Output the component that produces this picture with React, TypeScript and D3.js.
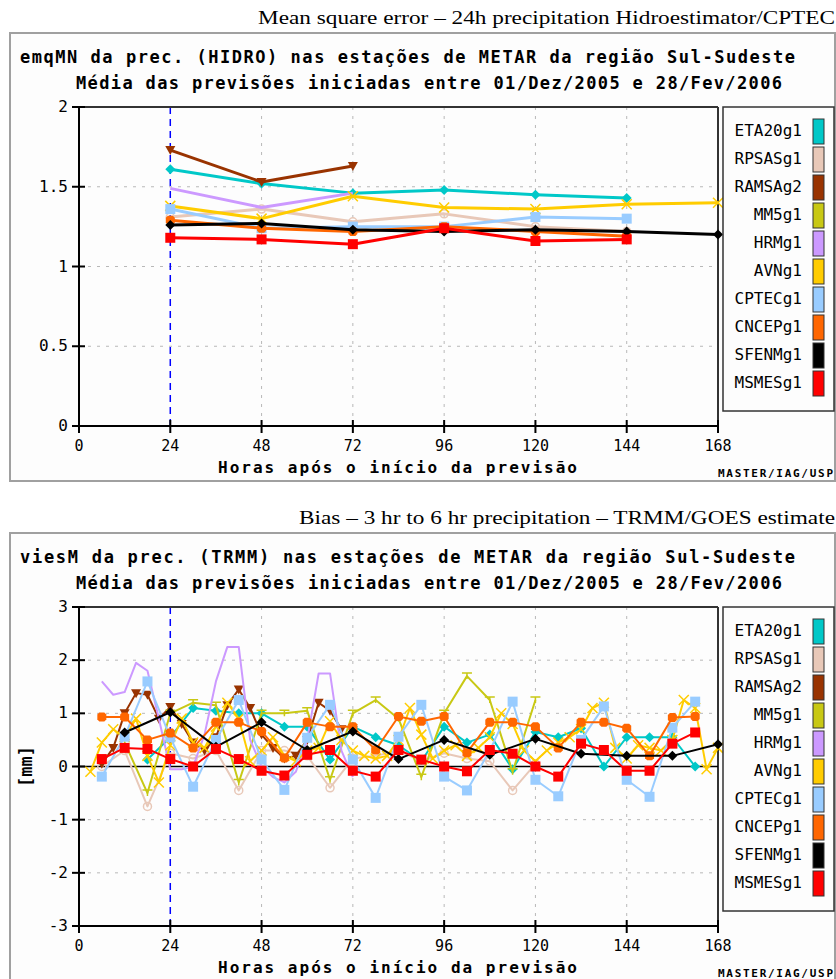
import React from 'react';
import * as d3 from 'd3';

// modelos (ordem da legenda)
const models = ['ETA20g1', 'RPSASg1', 'RAMSAg2', 'MM5g1', 'HRMg1', 'AVNg1', 'CPTECg1', 'CNCEPg1', 'SFENMg1', 'MSMESg1'];
const modelColors = ['#00c8c8', '#e8c8b8', '#993300', '#c8c814', '#cc99ff', '#ffcc00', '#99ccff', '#ff6600', '#000000', '#ff0000'];
const modelMarkers = ['diamond', 'circle', 'triangle', 'bar', 'none', 'cross', 'square', 'dot', 'diamond', 'square'];

const xTicks = [0, 24, 48, 72, 96, 120, 144, 168];

// ---- painel 1: emqMN (HIDRO), previsoes a cada 24h
const emqHours = [24, 48, 72, 96, 120, 144, 168];
const emqETA20 = [1.61, 1.52, 1.46, 1.48, 1.45, 1.43, null];
const emqRPSAS = [1.31, 1.36, 1.28, 1.33, 1.25, 1.22, null];
const emqRAMSA = [1.73, 1.53, 1.63, null, null, null, null];
const emqMM5: (number | null)[] = [null, null, null, null, null, null, null];
const emqHRM = [1.49, 1.37, 1.46, null, null, null, null];
const emqAVN = [1.38, 1.30, 1.44, 1.37, 1.36, 1.39, 1.40];
const emqCPTEC = [1.36, 1.24, 1.25, 1.25, 1.31, 1.30, null];
const emqCNCEP = [1.29, 1.24, 1.22, 1.25, 1.22, 1.19, null];
const emqSFENM = [1.26, 1.27, 1.23, 1.22, 1.23, 1.22, 1.20];
const emqMSMES = [1.18, 1.17, 1.14, 1.24, 1.16, 1.17, null];
const emqTicks = [0, 0.5, 1, 1.5, 2];

// ---- painel 2: viesM (TRMM)
const hours6 = [6, 12, 18, 24, 30, 36, 42, 48, 54, 60, 66, 72, 78, 84, 90, 96, 102, 108, 114, 120, 126, 132, 138, 144, 150, 156, 162, 168];
const hours12 = [12, 24, 36, 48, 60, 72, 84, 96, 108, 120, 132, 144, 156, 168];
const hoursRAMS = [6, 9, 12, 15, 18, 21, 24, 27, 30, 33, 36, 39, 42, 45, 48, 51, 54, 57, 60, 63, 66, 69];
const hoursHRM = [6, 9, 12, 15, 18, 21, 24, 27, 30, 33, 36, 39, 42, 45, 48, 51, 54, 57, 60, 63, 66, 69, 72];
const hoursAVN = [3, 6, 9, 12, 15, 18, 21, 24, 27, 30, 33, 36, 39, 42, 45, 48, 51, 54, 57, 60, 63, 66, 69, 72, 75, 78, 81, 84, 87, 90, 93, 96, 99, 102, 105, 108, 111, 114, 117, 120, 123, 126, 129, 132, 135, 138, 141, 144, 147, 150, 153, 156, 159, 162, 165, 168];

const viesETA20 = [null, null, 0.13, 0.55, 1.1, 1.05, 1.0, 1.0, 0.75, 0.75, 0.13, 0.75, 0.55, 0.4, 0.1, 0.75, 0.45, 0.6, -0.05, 0.65, 0.55, 0.72, 0.0, 0.55, 0.55, 0.55, 0.0, null];
const viesRPSAS = [0.0, 0.3, -0.75, 0.25, 0.15, 0.3, -0.45, 0.3, 0.3, 0.2, -0.4, 0.15, 0.2, 0.3, 0.1, 0.25, 0.15, 0.1, -0.45, 0.05, null, null, null, null, null, null, null, null];
const viesRAMSA = [0.05, 0.35, 1.0, 1.38, 1.35, 0.9, 1.12, 0.8, 0.45, 0.3, 0.55, 1.15, 1.45, 1.1, 0.6, 0.35, 0.15, 0.2, 0.5, 1.2, 1.05, 0.7];
const viesMM5 = [null, 0.45, -0.5, 1.0, 1.2, 1.15, -0.3, 1.0, 1.0, 1.05, -0.25, 1.0, 1.25, 0.9, -0.2, 1.0, 1.7, 1.25, -0.1, 1.25, null, null, null, null, null, null, null, null];
const viesHRM = [1.6, 1.35, 1.4, 1.95, 1.8, 0.9, -0.05, -0.05, 0.0, 0.6, 1.6, 2.25, 2.25, 0.5, 0.0, -0.2, -0.3, -0.1, 0.5, 1.75, 1.75, 0.3, -0.2];
const viesAVN = [-0.1, 0.45, 0.7, 0.55, 0.9, 0.2, -0.3, 0.4, 0.9, 0.45, 0.35, 0.75, 1.2, 0.9, 0.1, 0.3, 0.55, 0.2, 0.1, 0.3, 0.35, 0.85, 0.5, 0.3, 0.2, 0.15, 0.2, 0.5, 1.1, 0.6, 0.15, 0.3, 0.4, 0.2, 0.35, 0.55, 1.0, 0.8, 0.3, 0.1, 0.3, 0.45, 0.55, 0.7, 1.1, 1.2, 0.35, 0.15, 0.4, 0.35, 0.3, 0.5, 1.25, 1.1, -0.05, 0.35];
const viesCPTEC = [-0.19, 0.56, 1.6, 0.55, -0.38, 0.5, 1.25, 0.13, -0.44, 0.54, 1.16, 0.13, -0.59, 0.56, 1.16, -0.19, -0.45, 0.3, 1.22, -0.25, -0.56, 0.5, 1.13, -0.25, -0.57, 0.73, 1.22, null];
const viesCNCEP = [0.93, 0.93, 0.5, 0.63, 0.35, 0.83, 0.83, 0.66, 0.16, 0.83, 0.75, 0.75, 0.31, 0.94, 0.85, 0.94, 0.26, 0.83, 0.83, 0.75, 0.35, 0.83, 0.83, 0.72, 0.2, 0.92, 0.94, null];
const viesSFENM = [0.64, 1.02, 0.37, 0.83, 0.31, 0.66, 0.14, 0.5, 0.22, 0.52, 0.24, 0.2, 0.2, 0.42];
const viesMSMES = [0.14, 0.35, 0.33, 0.14, 0.0, 0.33, 0.14, -0.08, -0.17, 0.22, 0.31, -0.08, -0.19, 0.31, 0.13, 0.0, -0.09, 0.31, 0.24, 0.0, -0.19, 0.43, 0.31, -0.08, -0.08, 0.43, 0.64, null];
const viesTicks = [-3, -2, -1, 0, 1, 2, 3];

type Series = { name: string; color: string; marker: string; hours: number[]; values: (number | null)[] };

const mk = (i: number, hours: number[], values: (number | null)[]): Series => ({
  name: models[i], color: modelColors[i], marker: modelMarkers[i], hours, values,
});

const emqSeries: Series[] = [
  mk(0, emqHours, emqETA20), mk(1, emqHours, emqRPSAS), mk(2, emqHours, emqRAMSA),
  mk(3, emqHours, emqMM5), mk(4, emqHours, emqHRM), mk(5, emqHours, emqAVN),
  mk(6, emqHours, emqCPTEC), mk(7, emqHours, emqCNCEP), mk(8, emqHours, emqSFENM),
  mk(9, emqHours, emqMSMES),
];

const viesSeries: Series[] = [
  mk(0, hours6, viesETA20), mk(1, hours6, viesRPSAS), mk(2, hoursRAMS, viesRAMSA),
  mk(3, hours6, viesMM5), mk(4, hoursHRM, viesHRM), mk(5, hoursAVN, viesAVN),
  mk(6, hours6, viesCPTEC), mk(7, hours6, viesCNCEP), mk(8, hours12, viesSFENM),
  mk(9, hours6, viesMSMES),
];

const BOLD = '"DejaVu Sans Mono", monospace';

function markerPath(shape: string) {
  switch (shape) {
    case 'square': return 'M-5,-5h10v10h-10Z';
    case 'diamond': return 'M0,-5L5,0L0,5L-5,0Z';
    case 'triangle': return 'M-5,-4L5,-4L0,5Z';
    case 'dot': return 'M-2.5,-4.5h5l2,2v5l-2,2h-5l-2,-2v-5Z';
    default: return null;
  }
}

function Marker({ shape, color, cx, cy }: { shape: string; color: string; cx: number; cy: number }) {
  if (shape === 'none') return null;
  if (shape === 'cross')
    return <path d="M-5,-5L5,5M5,-5L-5,5" transform={`translate(${cx},${cy})`} stroke={color} strokeWidth={1.5} fill="none" />;
  if (shape === 'bar')
    return <path d="M-5,-3L5,-3M0,-3L0,3" transform={`translate(${cx},${cy})`} stroke={color} strokeWidth={1.5} fill="none" />;
  if (shape === 'circle')
    return <circle cx={cx} cy={cy} r={4} fill="none" stroke={color} strokeWidth={1.5} />;
  return <path d={markerPath(shape) || ''} transform={`translate(${cx},${cy})`} fill={color} />;
}

type PanelProps = {
  y0: number; heading: string; headingX: number; title1: string;
  yDomain: [number, number]; yTicks: number[]; series: Series[];
  yLabel?: string; lineWidth: number;
};

function Panel({ y0, heading, headingX, title1, yDomain, yTicks, series, yLabel, lineWidth }: PanelProps) {
  const left = 79, right = 718, top = y0 + 107, bottom = y0 + 426;
  const x = d3.scaleLinear().domain([0, 168]).range([left, right]);
  const y = d3.scaleLinear().domain(yDomain).range([bottom, top]);
  const line = d3.line<[number, number | null]>()
    .defined(d => d[1] != null)
    .x(d => x(d[0]))
    .y(d => y(d[1] as number));

  const legendTop = top;
  return (
    <g>
      <text x={headingX} y={y0 + 24} fontFamily='"Liberation Serif", serif' fontSize={19}
        textLength={835 - headingX} lengthAdjust="spacingAndGlyphs">{heading}</text>
      <rect x={10} y={y0 + 33} width={825} height={448} fill="#fdfdfd" stroke="#a0a0a0" strokeWidth={2} />
      <text x={20} y={y0 + 63} fontFamily={BOLD} fontWeight="bold" fontSize={17}
        textLength={775} lengthAdjust="spacing">{title1}</text>
      <text x={76} y={y0 + 89} fontFamily={BOLD} fontWeight="bold" fontSize={17}
        textLength={706} lengthAdjust="spacing">Média das previsões iniciadas entre 01/Dez/2005 e 28/Fev/2006</text>

      {/* grade */}
      {xTicks.filter(t => t > 24 && t < 168).map(t => (
        <line key={'gx' + t} x1={x(t)} x2={x(t)} y1={top} y2={bottom} stroke="#b8b8b8" strokeDasharray="3,6" />
      ))}
      {yTicks.filter(t => t !== yDomain[0] && t !== yDomain[1] && t !== 0).map(t => (
        <line key={'gy' + t} x1={left} x2={right} y1={y(t)} y2={y(t)} stroke="#b8b8b8" strokeDasharray="3,6" />
      ))}
      <line x1={x(24)} x2={x(24)} y1={top} y2={bottom} stroke="#0000ff" strokeWidth={1.5} strokeDasharray="7,5" />

      {/* moldura */}
      <line x1={left} x2={right} y1={top} y2={top} stroke="#333" strokeWidth={2} />
      <line x1={right} x2={right} y1={top} y2={bottom} stroke="#333" strokeWidth={2} />
      {yDomain[0] < 0 && <line x1={left} x2={right} y1={y(0)} y2={y(0)} stroke="#000" strokeWidth={1.5} />}

      {/* eixos */}
      <line x1={left} x2={left} y1={top} y2={bottom} stroke="#000" strokeWidth={2} />
      <line x1={left} x2={right} y1={bottom} y2={bottom} stroke="#000" strokeWidth={2} />
      {yTicks.map(t => (
        <g key={'ty' + t}>
          <line x1={left - 7} x2={left + 6} y1={y(t)} y2={y(t)} stroke="#000" strokeWidth={2} />
          <text x={left - 11} y={y(t) + 5} textAnchor="end" fontFamily={BOLD} fontSize={16}>{t}</text>
        </g>
      ))}
      {xTicks.map(t => (
        <g key={'tx' + t}>
          <line x1={x(t)} x2={x(t)} y1={bottom - 6} y2={bottom + 7} stroke="#000" strokeWidth={2} />
          <text x={x(t)} y={bottom + 25} textAnchor="middle" fontFamily={BOLD} fontSize={15}>{t}</text>
        </g>
      ))}
      <text x={218} y={y0 + 473} fontFamily={BOLD} fontWeight="bold" fontSize={16}
        textLength={359} lengthAdjust="spacing">Horas após o início da previsão</text>
      <text x={718} y={y0 + 477} fontFamily={BOLD} fontWeight="bold" fontSize={11}
        textLength={115} lengthAdjust="spacing">MASTER/IAG/USP</text>
      {yLabel && (
        <text transform={`translate(32,${y(0)}) rotate(-90)`} textAnchor="middle" fontFamily={BOLD}
          fontWeight="bold" fontSize={17}>{yLabel}</text>
      )}

      {/* series */}
      {series.map(s => {
        const pts = s.hours.map((h, i) => [h, s.values[i]] as [number, number | null]);
        return (
          <g key={s.name}>
            <path d={line(pts) || ''} fill="none" stroke={s.color} strokeWidth={lineWidth} strokeLinejoin="round" />
            {pts.filter(p => p[1] != null).map((p, i) => (
              <Marker key={i} shape={s.marker} color={s.color} cx={x(p[0])} cy={y(p[1] as number)} />
            ))}
          </g>
        );
      })}

      {/* legenda */}
      <rect x={723} y={legendTop} width={111} height={304} fill="#fdfdfd" stroke="#333" strokeWidth={1.5} />
      {models.map((m, i) => (
        <g key={m}>
          <text x={802} y={legendTop + 29 + i * 28} textAnchor="end" fontFamily={BOLD} fontSize={16}>{m}</text>
          <rect x={813} y={legendTop + 12 + i * 28} width={11} height={25} fill={modelColors[i]} stroke="#333" strokeWidth={1} />
        </g>
      ))}
    </g>
  );
}

export default function App() {
  return (
    <svg width={836} height={979} style={{ position: 'absolute', left: 0, top: 0, background: '#fff' }}>
      <Panel y0={0} heading="Mean square error – 24h precipitation Hidroestimator/CPTEC" headingX={258}
        title1="emqMN da prec. (HIDRO) nas estações de METAR da região Sul-Sudeste"
        yDomain={[0, 2]} yTicks={emqTicks} series={emqSeries} lineWidth={3} />
      <Panel y0={500} heading="Bias – 3 hr to 6 hr precipitation – TRMM/GOES estimate" headingX={299}
        title1="viesM da prec. (TRMM) nas estações de METAR da região Sul-Sudeste"
        yDomain={[-3, 3]} yTicks={viesTicks} series={viesSeries} yLabel="[mm]" lineWidth={2} />
    </svg>
  );
}
